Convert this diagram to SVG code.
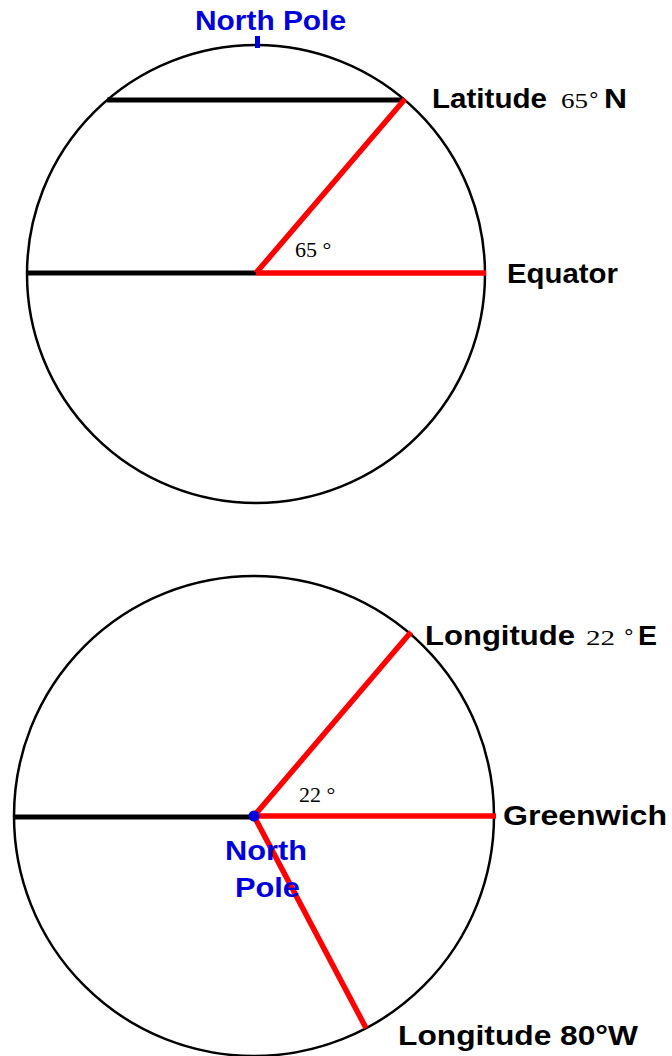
<svg xmlns="http://www.w3.org/2000/svg" width="672" height="1056" viewBox="0 0 672 1056">
<style>
.circ{fill:none;stroke:#000;stroke-width:2.5}
.blk{stroke:#000;stroke-width:5;stroke-linecap:butt}
.red{stroke:#ff0000;stroke-width:5.5;stroke-linecap:butt}
.lbl{font-family:"Liberation Sans",Arial,sans-serif;font-weight:bold;font-size:27px;fill:#000}
.blue{fill:#0000dd}
.ser{font-family:"Liberation Serif","Times New Roman",serif;font-size:22px;fill:#000}
.deg{font-family:"Liberation Sans",Arial,sans-serif;font-size:24px;fill:#000}
</style>
<rect width="672" height="1056" fill="#fff"/>
<g id="globe-top">
<circle class="circ" cx="256" cy="274" r="229"/>
<rect x="255" y="36" width="5" height="12" fill="#0000dd"/>
</g>
<g id="globe-bottom">
<circle class="circ" cx="254" cy="816" r="240"/>
</g>
<g id="connectors">
<line class="blk" x1="107" y1="100" x2="404" y2="100"/>
<line class="blk" x1="28" y1="273" x2="256" y2="273"/>
<line class="red" x1="256" y1="273" x2="486" y2="273"/>
<line class="red" x1="256" y1="273" x2="405" y2="99"/>
<line class="blk" x1="14" y1="817" x2="254" y2="817"/>
<line class="red" x1="254" y1="816" x2="496" y2="816"/>
<line class="red" x1="254" y1="816" x2="411" y2="632"/>
<line class="red" x1="254" y1="816" x2="366" y2="1028"/>
</g>
<g id="north-pole-dot"><circle cx="254" cy="816" r="5.5" fill="#0000dd"/></g>
<g id="label-north-pole-top"><text class="lbl blue" x="195" y="30" textLength="151" lengthAdjust="spacingAndGlyphs">North Pole</text></g>
<g id="label-latitude">
<text class="lbl" x="432" y="108" textLength="115" lengthAdjust="spacingAndGlyphs">Latitude</text>
<text class="ser" x="561" y="108" textLength="27" lengthAdjust="spacingAndGlyphs">65</text>
<text class="deg" x="589" y="108">°</text>
<text class="lbl" x="604" y="108" textLength="23" lengthAdjust="spacingAndGlyphs">N</text>
</g>
<g id="label-65"><text class="ser" x="295" y="257">65 °</text></g>
<g id="label-equator"><text class="lbl" x="507" y="283" textLength="111" lengthAdjust="spacingAndGlyphs">Equator</text></g>
<g id="label-longitude-22"><text class="lbl" x="425" y="645" textLength="150" lengthAdjust="spacingAndGlyphs">Longitude</text>
<text class="ser" x="586" y="645" textLength="29" lengthAdjust="spacingAndGlyphs">22</text>
<text class="deg" x="624" y="645">°</text>
<text class="lbl" x="638" y="645" textLength="19" lengthAdjust="spacingAndGlyphs">E</text></g>
<g id="label-22"><text class="ser" x="299" y="802">22 °</text></g>
<g id="label-greenwich"><text class="lbl" x="503" y="825" textLength="164" lengthAdjust="spacingAndGlyphs">Greenwich</text></g>
<g id="label-north-pole-bottom">
<text class="lbl blue" x="225" y="860" textLength="82" lengthAdjust="spacingAndGlyphs">North</text>
<text class="lbl blue" x="235" y="897" textLength="65" lengthAdjust="spacingAndGlyphs">Pole</text>
</g>
<g id="label-longitude-80"><text class="lbl" x="398" y="1045" textLength="240" lengthAdjust="spacingAndGlyphs">Longitude 80°W</text></g>
</svg>
